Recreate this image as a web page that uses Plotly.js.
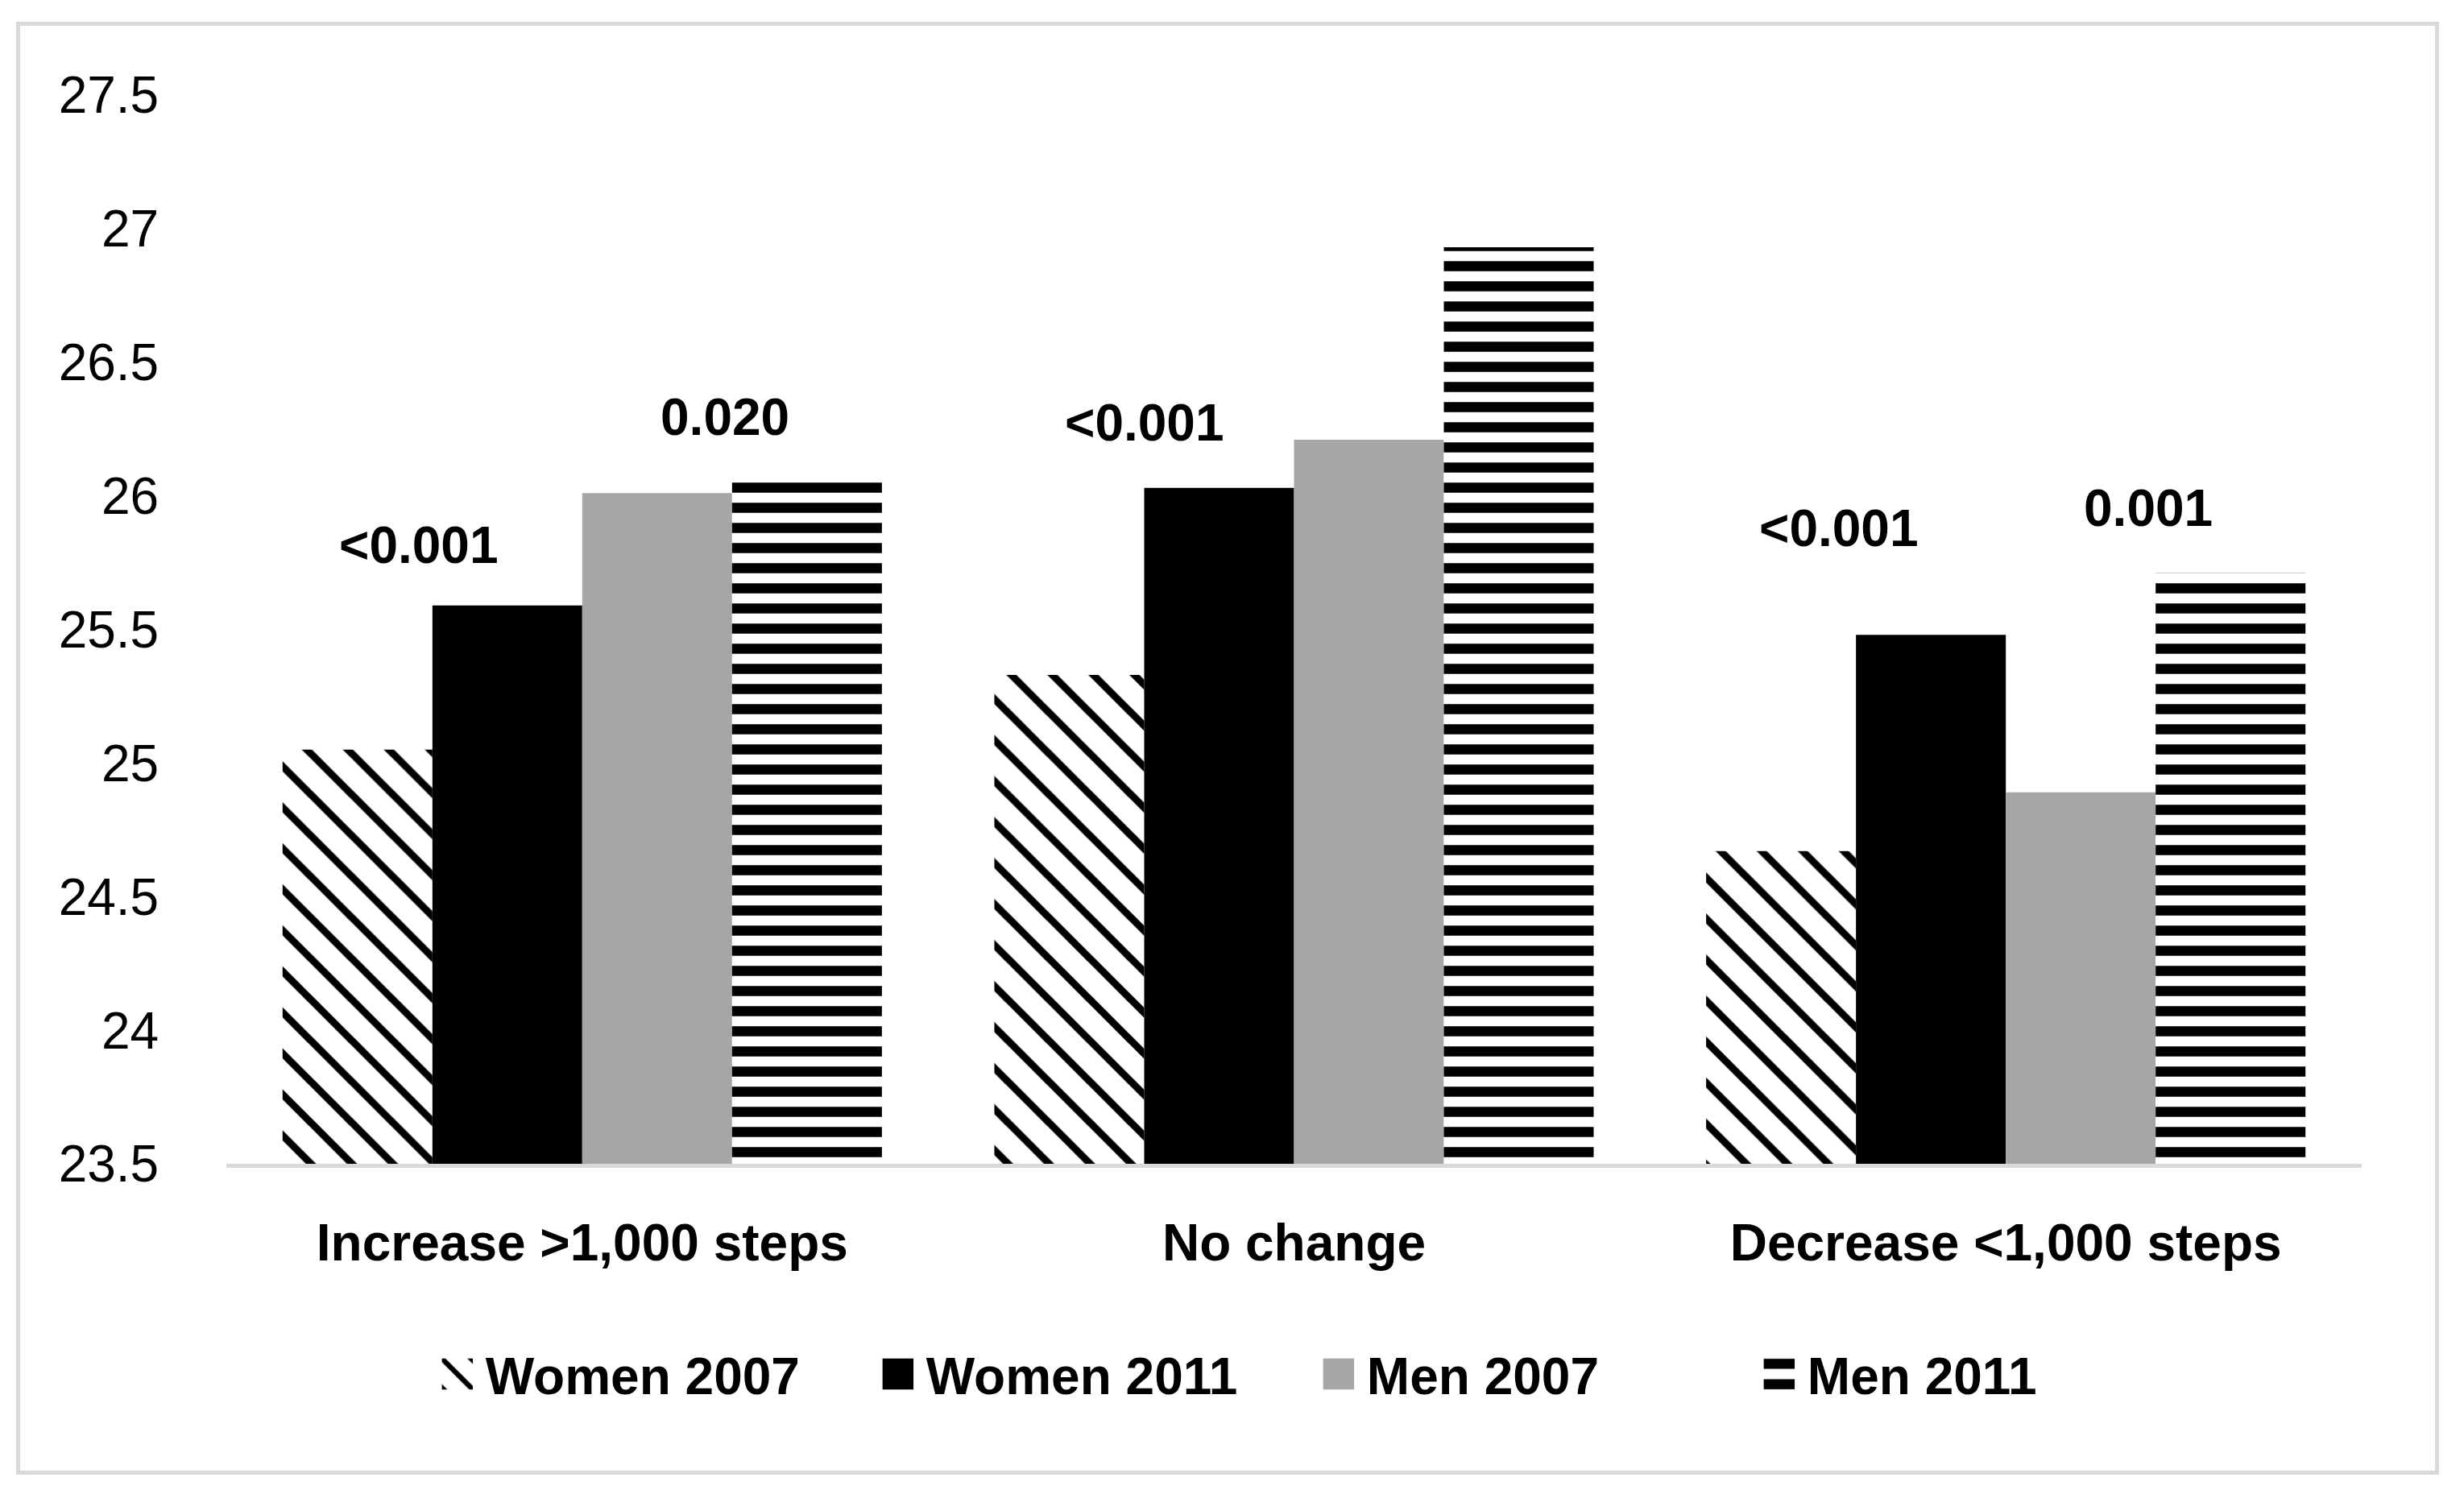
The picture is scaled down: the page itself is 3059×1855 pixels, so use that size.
<!DOCTYPE html>
<html>
<head>
<meta charset="utf-8">
<script src="https://cdn.plot.ly/plotly-3.0.1.min.js"></script>
<style>
  html, body { margin: 0; padding: 0; background: #fff; }
  #wrap { position: relative; width: 3059px; height: 1855px; }
  #chart { position: absolute; left: 0; top: 0; width: 3059px; height: 1855px; }
  #frame { position: absolute; left: 20px; top: 27px; width: 2998px; height: 1794px;
           border: 5px solid #d9d9d9; pointer-events: none; }
</style>
</head>
<body>
<div id="wrap">
  <div id="chart"></div>
  <div id="frame"></div>
</div>
<script>
// ---- data ----
const categories = ['Increase >1,000 steps', 'No change', 'Decrease <1,000 steps'];
const seriesNames = ['Women 2007', 'Women 2011', 'Men 2007', 'Men 2011'];
const women2007 = [25.05, 25.33, 24.67];
const women2011 = [25.59, 26.03, 25.48];
const men2007   = [26.01, 26.21, 24.89];
const men2011   = [26.08, 26.93, 25.71];
const yTickVals = [23.5, 24, 24.5, 25, 25.5, 26, 26.5, 27, 27.5];
const yTickText = ['23.5', '24', '24.5', '25', '25.5', '26', '26.5', '27', '27.5'];

// p-value labels
const pLabels   = ['<0.001', '0.020', '<0.001', '0.006', '<0.001', '0.001'];
const pCategory = [0, 0, 1, 1, 2, 2];
const pLevel    = [25.815, 26.294, 26.273, 27.572, 25.878, 25.954];
// label placement (offset within category group, category units)
const pShift    = [-0.23, 0.20, -0.21, 0.23, -0.235, 0.20];

const FONT = 'Liberation Sans, Arial, sans-serif';

const traces = [
  { name: seriesNames[0], x: categories, y: women2007, type: 'bar',
    marker: { color: '#ffffff', line: { width: 0 },
              pattern: { shape: '\\', fgcolor: '#000000', bgcolor: '#ffffff', size: 36, solidity: 0.25, fillmode: 'replace' } } },
  { name: seriesNames[1], x: categories, y: women2011, type: 'bar',
    marker: { color: '#000000', line: { width: 0 } } },
  { name: seriesNames[2], x: categories, y: men2007, type: 'bar',
    marker: { color: '#a6a6a6', line: { width: 0 } } },
  { name: seriesNames[3], x: categories, y: men2011, type: 'bar',
    marker: { color: '#ffffff', line: { width: 0 },
              pattern: { shape: '-', fgcolor: '#000000', bgcolor: '#ffffff', size: 25, solidity: 0.5, fillmode: 'replace' } } }
];

const annotations = pLabels.map((t, i) => ({
  text: '<b>' + t.replace('<', '&lt;') + '</b>',
  x: pCategory[i] + pShift[i], xref: 'x',
  y: pLevel[i], yref: 'y',
  showarrow: false, xanchor: 'center', yanchor: 'middle',
  font: { family: FONT, size: 64, color: '#000000' }
}));

const layout = {
  width: 3059, height: 1855,
  margin: { l: 281, r: 127, t: 118, b: 410, pad: 0 },
  paper_bgcolor: '#ffffff', plot_bgcolor: '#ffffff',
  barmode: 'group', bargap: 0.158, bargroupgap: 0,
  font: { family: FONT, color: '#000000' },
  xaxis: {
    type: 'category',
    showline: true, linecolor: '#d9d9d9', linewidth: 5,
    showgrid: false, zeroline: false,
    ticks: 'outside', ticklen: 38, tickcolor: 'rgba(0,0,0,0)',
    tickfont: { family: FONT, size: 64, color: '#000000', weight: 'bold' },
    fixedrange: true
  },
  yaxis: {
    range: [23.5, 27.5],
    tickvals: yTickVals, ticktext: yTickText,
    showline: false, showgrid: false, zeroline: false,
    ticks: 'outside', ticklen: 70, tickcolor: 'rgba(0,0,0,0)',
    tickfont: { family: FONT, size: 64, color: '#000000' },
    fixedrange: true
  },
  showlegend: true,
  legend: {
    orientation: 'h', x: 0.095, xanchor: 'left', y: -0.197, yanchor: 'middle',
    font: { family: FONT, size: 64, color: '#000000', weight: 'bold' },
    itemwidth: 60, entrywidth: 472, entrywidthmode: 'pixels',
    traceorder: 'normal', bgcolor: 'rgba(0,0,0,0)'
  },
  annotations: annotations
};

Plotly.newPlot('chart', traces, layout, { staticPlot: true, displayModeBar: false }).then(gd => {
  // enlarge legend swatches to match the reference's square keys
  gd.querySelectorAll('.legendpoints path').forEach(p => {
    const tr = p.getAttribute('transform') || '';
    p.setAttribute('transform', tr + ' scale(3.2)');
  });
});
</script>
</body>
</html>
